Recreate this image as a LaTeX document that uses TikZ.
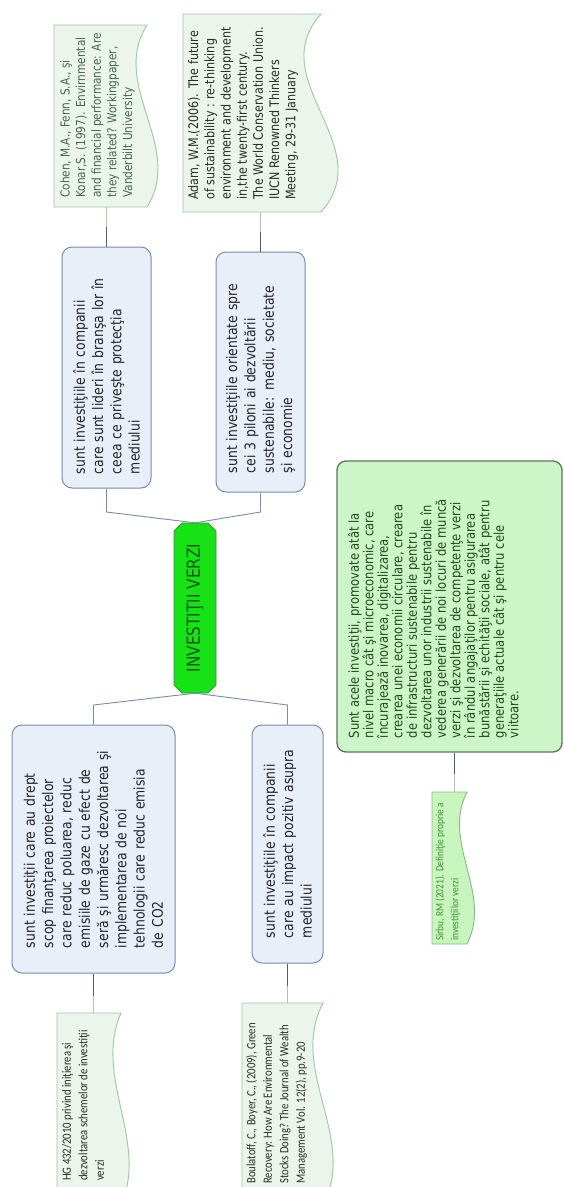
\documentclass[tikz,border=0pt]{standalone}
\usepackage{fontspec}
\newfontfamily\dvs[FakeStretch=0.85]{DejaVu Sans}
\newfontfamily\cls[FakeStretch=0.85]{Carlito}
\lineskiplimit=-20pt

\definecolor{boxfill}{RGB}{233,239,248}
\definecolor{boxline}{RGB}{118,142,170}
\definecolor{boxtext}{RGB}{35,35,40}
\definecolor{hubfill}{RGB}{22,226,22}
\definecolor{hubline}{RGB}{55,150,55}
\definecolor{hubtext}{RGB}{25,85,25}
\definecolor{deffill}{RGB}{205,246,200}
\definecolor{defline}{RGB}{95,115,95}
\definecolor{deftext}{RGB}{30,75,30}
\definecolor{reffill}{RGB}{235,245,235}
\definecolor{refline}{RGB}{160,198,160}
\definecolor{reftextlight}{RGB}{70,100,85}
\definecolor{reftext}{RGB}{40,45,40}
\definecolor{srcfill}{RGB}{200,245,190}
\definecolor{srcline}{RGB}{135,185,135}
\definecolor{srctext}{RGB}{60,145,60}
\definecolor{linkdark}{RGB}{85,95,105}
\definecolor{linklight}{RGB}{170,200,175}

% document-like sheet with a wavy right edge: style, x1, y1, x2, y2, wave strength
\newcommand{\refsheet}[6]{%
  \path[#1] (#2,#3) -- (#4,#3)
    .. controls ({#4-#6},{#3+(#5-#3)/3}) and ({#4+#6},{#5-(#5-#3)/3}) .. (#4,#5)
    -- (#2,#5) -- cycle;}
% one unbreakable line of a branch text
\newcommand{\row}[1]{\mbox{#1}}

\begin{document}
\begin{tikzpicture}[x=1pt,y=-1pt,
  idea/.style={draw=boxline, fill=boxfill, line width=1pt, rounded corners=10pt,
    rotate=90, inner ysep=0pt, align=left, text=boxtext,
    font=\dvs\fontsize{14.6}{18.3}\selectfont},
  hubnode/.style={rotate=90, inner sep=0pt, minimum width=170pt, minimum height=42pt,
    text=hubtext, font=\dvs\fontsize{18}{20}\selectfont},
  hubshape/.style={draw=hubline, fill=hubfill, line width=0.8pt},
  defbox/.style={draw=defline, fill=deffill, line width=1.3pt, rounded corners=9pt,
    rotate=90, inner xsep=14pt, inner ysep=11pt, text=deftext,
    font=\dvs\fontsize{13.6}{14.5}\selectfont},
  refshape/.style={draw=refline, fill=reffill, line width=0.9pt},
  srcshape/.style={draw=srcline, fill=srcfill, line width=0.9pt},
  reflabel/.style={rotate=90, anchor=north west, inner sep=0pt, align=left},
  lawlabel/.style={rotate=90, anchor=north west, inner sep=0pt, align=left, text=reftext,
    font=\cls\fontsize{12.6}{16.5}\selectfont},
  srclabel/.style={rotate=90, anchor=north west, inner sep=0pt, align=left, text=srctext,
    font=\cls\fontsize{11}{15}\selectfont},
  link/.style={draw=boxline, line width=0.9pt},
  citelink/.style={draw=linkdark, line width=1pt},
  citelinklight/.style={draw=linklight, line width=1pt}]

\useasboundingbox (0,0) rectangle (563,1187);
\fill[white] (0,0) rectangle (563,1187);
\clip (0,0) rectangle (563,1187);

% central topic
\path[hubshape] (182,523) -- (208,523) -- (216,531) -- (216,685) -- (208,693)
  -- (182,693) -- (174,685) -- (174,531) -- cycle;
\node[hubnode] (hub) at (195,608) {INVESTIŢII VERZI};
\coordinate (jtop) at (0,512);
\coordinate (jbot) at (0,705);

% the four branches
\node[idea, inner xsep=14pt, text width=213pt, minimum height=89pt] (b1) at (106.5,367.5)
  {\row{sunt investiţiile în companii}\\\row{care sunt lideri în branşa lor în}\\
   \row{ceea ce priveşte protecţia}\\\row{mediului}};
\node[idea, inner xsep=19pt, text width=202pt, minimum height=89pt] (b2) at (260.5,372)
  {\row{sunt investiţiile orientate spre}\\\row{cei 3 piloni ai dezvoltării}\\
   \row{sustenabile: mediu, societate}\\\row{şi economie}};
\node[idea, inner xsep=25pt, text width=198pt, minimum height=163pt] (b3) at (93.5,849)
  {\row{sunt investiţii care au drept}\\\row{scop finanţarea proiectelor}\\
   \row{care reduc poluarea, reduc}\\\row{emisiile de gaze cu efect de}\\
   \row{seră şi urmăresc dezvoltarea şi}\\\row{implementarea de noi}\\
   \row{tehnologii care reduc emisia}\\\row{de CO2}};
\node[idea, inner xsep=25pt, text width=188pt, minimum height=71pt] (b4) at (287.5,844)
  {\row{sunt investiţiile în companii}\\\row{care au impact pozitiv asupra}\\
   \row{mediului}};

\draw[link] (b1.west) -- (b1.west |- jtop) -- (hub.east);
\draw[link] (b2.west) -- (b2.west |- jtop) -- (hub.east);
\draw[link] (hub.west) -- (b3.east |- jbot) -- (b3.east);
\draw[link] (hub.west) -- (b4.east |- jbot) -- (b4.east);

% own definition
\node[defbox, minimum width=291pt, minimum height=225pt] (def) at (449.5,606.5)
  {\parbox[c][203pt][t]{263pt}{\raggedright
   Sunt acele investiţii, promovate atât la\\
   nivel macro cât şi microeconomic, care\\
   încurajează inovarea, digitalizarea,\\
   crearea unei economii circulare, crearea\\
   de infrastructuri sustenabile pentru\\
   dezvoltarea unor industrii sustenabile în\\
   vederea generării de noi locuri de muncă\\
   verzi şi dezvoltarea de competenţe verzi\\
   în rândul angajaţilor pentru asigurarea\\
   bunăstării şi echităţii sociale, atât pentru\\
   generaţiile actuale cât şi pentru cele\\
   viitoare.}};

% reference sheets
\refsheet{refshape}{54}{25}{147}{207}{38}
\node[reflabel, text=reftextlight, font=\dvs\fontsize{12.4}{15.6}\selectfont] (cohen) at (60,198)
  {Cohen, M.A., Fenn, S.A., şi\\Konar,S. (1997). Envirnmental\\and financial performance: Are\\they related? Workingpaper,\\Vanderbilt University};
\coordinate (cohen-foot) at (106.5,207);
\coordinate (cohen-mid) at (106.5,227);

\refsheet{refshape}{183}{14}{321}{212}{59}
\node[reflabel, text=reftext, font=\dvs\fontsize{13.1}{16.2}\selectfont] (adam) at (188,200)
  {Adam, W.M.(2006). The future\\of sustainability : re-thinking\\environment and development\\in,the twenty-first century.\\The World Conservation Union.\\IUCN Renowned Thinkers\\Meeting, 29-31 January};
\coordinate (adam-foot) at (260.5,212);
\coordinate (adam-mid) at (260.5,232);

\refsheet{refshape}{57}{1013}{121}{1205}{28}
\node[lawlabel] (hg) at (62,1181)
  {HG 432/2010 privind iniţierea şi\\dezvoltarea schemelor de investiţii\\verzi};
\coordinate (hg-foot) at (93.5,1013);
\coordinate (hg-mid) at (93.5,996);

\refsheet{refshape}{242}{1003}{323}{1205}{35}
\node[lawlabel] (boulatoff) at (246,1184)
  {Boulatoff, C., Boyer, C., (2009), Green\\Recovery: How Are Environmental\\Stocks Doing? The Journal of Wealth\\Management Vol. 12(2), pp.9-20};
\coordinate (boul-foot) at (287.5,1003);
\coordinate (boul-mid) at (287.5,986);

\refsheet{srcshape}{432}{792}{467}{944}{26}
\node[srclabel] (sirbu) at (435,941)
  {Sirbu, RM (2021). Definiţie proprie a\\investiţiilor verzi};
\coordinate (src-foot) at (454,792);
\coordinate (src-mid) at (454,774);

% citation links
\draw[citelink] (b1.east) -- (cohen-mid);
\draw[citelinklight] (cohen-mid) -- (cohen-foot);
\draw[citelink] (b2.east) -- (adam-mid);
\draw[citelinklight] (adam-mid) -- (adam-foot);
\draw[citelink] (b3.west) -- (hg-mid);
\draw[citelinklight] (hg-mid) -- (hg-foot);
\draw[citelink] (b4.west) -- (boul-mid);
\draw[citelinklight] (boul-mid) -- (boul-foot);
\draw[citelink] (def.west -| src-foot) -- (src-mid);
\draw[citelinklight] (src-mid) -- (src-foot);
\end{tikzpicture}
\end{document}
